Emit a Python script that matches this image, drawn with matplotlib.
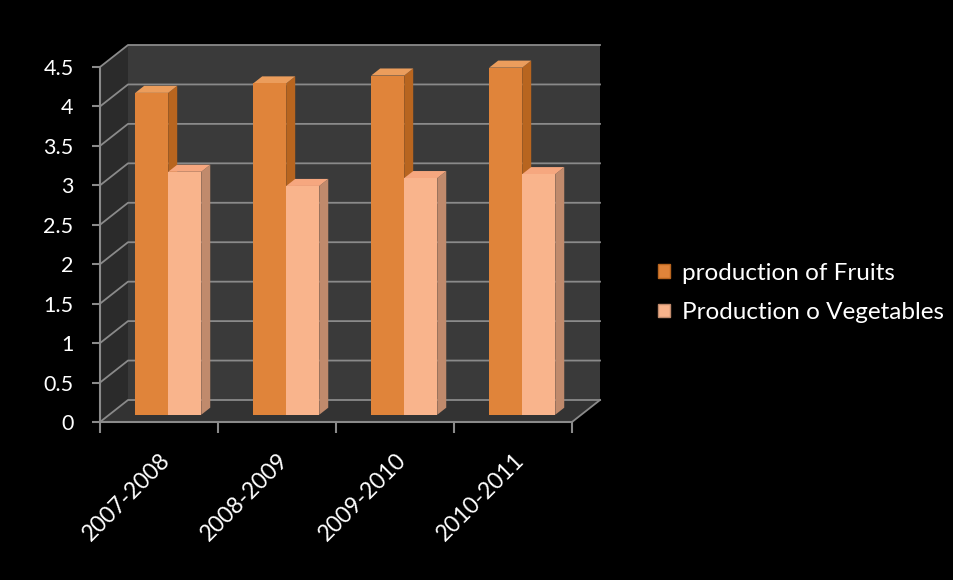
import numpy as np
import matplotlib.pyplot as plt
from matplotlib.patches import Polygon, Patch

years = ["2007-2008", "2008-2009", "2009-2010", "2010-2011"]
fruits = [4.08, 4.2, 4.3, 4.4]
vegetables = [3.08, 2.9, 3.0, 3.05]
series_names = ["production of Fruits", "Production o Vegetables"]
yticks = np.arange(0, 5.0, 0.5)

# colours: front, side, top
orange = ("#e0843a", "#b8651f", "#eb9d5c")
peach = ("#f9b48c", "#c08a6c", "#f6a77f")
wall_back = "#3a3a3a"
wall_left = "#2b2b2b"
floor_c = "#333333"
grid_c = "#8a8a8a"

plt.rcParams['font.family'] = ['Lato', 'DejaVu Sans']

fig = plt.figure(figsize=(9.54, 5.8), dpi=100, facecolor="black")
W, H = 954, 580
ax = fig.add_axes([100 / W, (H - 422) / H, 472 / W, 355 / H])
ax.set_facecolor("none")
n = len(years)
ymax = 4.5
ax.set_xlim(0, n)
ax.set_ylim(0, ymax)

# depth offset in data units (full depth)
DX = 28 / 118.0
DY = 22 / (355 / 4.5)


def poly(pts, fc, ec="none", lw=0, z=1):
    p = Polygon(pts, closed=True, fc=fc, ec=ec, lw=lw, zorder=z, clip_on=False)
    ax.add_patch(p)


# walls and floor
poly([(0, 0), (DX, DY), (DX, ymax + DY), (0, ymax)], wall_left, z=0)
poly([(DX, DY), (n + DX, DY), (n + DX, ymax + DY), (DX, ymax + DY)], wall_back, z=0)
poly([(0, 0), (n, 0), (n + DX, DY), (DX, DY)], floor_c, z=0)

for t in yticks:
    ax.plot([0, DX, n + DX], [t, t + DY, t + DY], color=grid_c, lw=1.3, zorder=0.5, clip_on=False)
ax.plot([n, n + DX], [0, DY], color=grid_c, lw=1.3, zorder=0.5, clip_on=False)

# bars
bw = 0.28
d0, d1 = 0.33, 0.65


def bar3d(x0, h, cols, z):
    fx, fy = DX * d0, DY * d0
    bx, by = DX * d1, DY * d1
    x1 = x0 + bw
    poly([(x1 + fx, fy), (x1 + bx, by), (x1 + bx, h + by), (x1 + fx, h + fy)], cols[1], z=z)
    poly([(x0 + fx, h + fy), (x1 + fx, h + fy), (x1 + bx, h + by), (x0 + bx, h + by)], cols[2], z=z)
    poly([(x0 + fx, fy), (x1 + fx, fy), (x1 + fx, h + fy), (x0 + fx, h + fy)], cols[0], z=z + 0.5)


for i in range(n):
    c = i + 0.5
    bar3d(c - bw, fruits[i], orange, 2)
    bar3d(c, vegetables[i], peach, 4)

# axes
for s in ["top", "right"]:
    ax.spines[s].set_visible(False)
for s in ["left", "bottom"]:
    ax.spines[s].set_color(grid_c)
    ax.spines[s].set_linewidth(1.5)
ax.set_yticks(yticks)
ax.set_yticklabels([f"{t:g}" for t in yticks])
ax.set_xticks(np.arange(n + 1))
ax.set_xticklabels([])
ax.set_xticks(np.arange(n) + 0.5, minor=True)
ax.set_xticklabels(years, minor=True, rotation=45, ha="right", va="top", rotation_mode="anchor")
ax.tick_params(axis="y", colors=grid_c, labelcolor="white", labelsize=15.5, length=6, width=1.5, pad=13)
ax.tick_params(axis="x", which="major", colors=grid_c, length=8, width=1.5)
ax.tick_params(axis="x", which="minor", length=0, labelcolor="white", labelsize=16.5, pad=20)

handles = [Patch(fc=orange[0], ec=orange[1]), Patch(fc=peach[0], ec=peach[1])]
fig.legend(handles, series_names, loc="center left", bbox_to_anchor=(636 / W, 1 - 293 / H),
           frameon=False, labelcolor="white", fontsize=17.5, handlelength=0.5, handleheight=0.5,
           handletextpad=0.5, labelspacing=0.75)

fig.savefig("out.png", dpi=100, facecolor="black")
